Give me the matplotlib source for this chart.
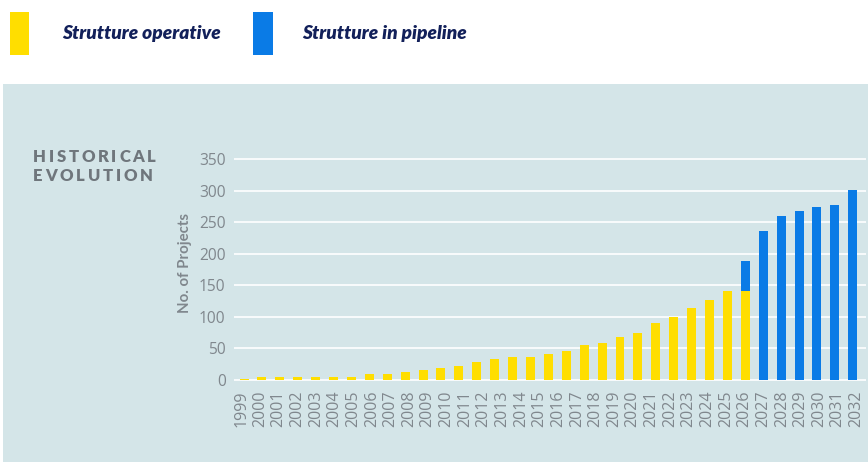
import numpy as np
import matplotlib
matplotlib.use("Agg")
import matplotlib.pyplot as plt
from matplotlib.patches import Rectangle

# ---- data -------------------------------------------------------------
year_labels = ["1999", "2000", "2001", "2002", "2003", "2004", "2005", "2006",
               "2007", "2008", "2009", "2010", "2011", "2012", "2013", "2014",
               "2015", "2016", "2017", "2018", "2019", "2020", "2021", "2022",
               "2023", "2024", "2025", "2026", "2027", "2028", "2029", "2030",
               "2031", "2032"]

operative = [2, 4, 4, 4, 4, 4, 4, 9, 9, 13, 16, 19, 22, 29, 33, 37, 37, 42,
             46, 55, 58, 68, 75, 90, 100, 115, 127, 141, 141,
             0, 0, 0, 0, 0, 0]
pipeline = [0, 0, 0, 0, 0, 0, 0, 0, 0, 0, 0, 0, 0, 0, 0, 0, 0, 0,
            0, 0, 0, 0, 0, 0, 0, 0, 0, 0, 48,
            236, 260, 268, 274, 277, 302]

y_ticks = [0, 50, 100, 150, 200, 250, 300, 350]

legend_labels = ["Strutture operative", "Strutture in pipeline"]
title_lines = ["HISTORICAL", "EVOLUTION"]
y_title = "No. of Projects"

# ---- style ------------------------------------------------------------
YELLOW = "#FFDE00"
BLUE = "#0A7BE6"
NAVY = "#12205A"
PANEL = "#D4E5E8"
GREY = "#80878D"
TITLE_GREY = "#6F767C"
FONT = "Lato"
TICK_FONT = "Open Sans"

W, H = 868, 462
fig = plt.figure(figsize=(W / 100, H / 100), dpi=100)
fig.patch.set_facecolor("white")


def fx(px):
    return px / W


def fy(py):
    return 1 - py / H


# light panel behind the chart
fig.patches.append(Rectangle((fx(3), 0), 1 - fx(3), fy(84), transform=fig.transFigure,
                             facecolor=PANEL, edgecolor="none", zorder=-2))

# legend swatches and labels
for x0, color, label, tx in [(9.5, YELLOW, legend_labels[0], 62),
                             (253, BLUE, legend_labels[1], 302)]:
    fig.patches.append(Rectangle((fx(x0), fy(54.7)), 20 / W, 42.7 / H,
                                 transform=fig.transFigure, facecolor=color,
                                 edgecolor="none", zorder=1))
    fig.text(fx(tx), fy(34), label, ha="left", va="center", color=NAVY,
             fontsize=13.8, fontweight="heavy", fontstyle="italic", family=FONT)

# ---- axes -------------------------------------------------------------
ax = fig.add_axes([fx(234), fy(380.5), (866 - 234) / W, (380.5 - 158.1) / H])
ax.set_zorder(2)
ax.set_facecolor("none")

x = np.arange(len(operative))
ax.bar(x, operative, width=0.5, color=YELLOW, zorder=3)
ax.bar(x, pipeline, width=0.5, bottom=operative, color=BLUE, zorder=3)

ax.set_xlim(-0.56, len(operative) - 1 + 0.74)
ax.set_ylim(-0.8, 352)
ax.set_yticks(y_ticks)
ax.yaxis.grid(True, color="white", linewidth=1.2, zorder=1)
ax.set_axisbelow(True)

# year labels are spread evenly across the full run of bars
ax.set_xticks(np.linspace(-0.15, len(operative) - 1 + 0.2, len(year_labels)))
ax.set_xticklabels(year_labels, rotation=90)

ax.tick_params(axis="y", length=0, colors=GREY, labelsize=11.2, pad=6)
ax.tick_params(axis="x", length=0, colors=GREY, labelsize=11.5, pad=7)
for lbl in ax.get_xticklabels() + ax.get_yticklabels():
    lbl.set_family(TICK_FONT)
for s in ax.spines.values():
    s.set_visible(False)

ax.set_ylabel(y_title, color=GREY, fontsize=10.8, fontweight="bold", family=FONT)
ax.yaxis.set_label_coords(-0.0775, 0.527)
ax.yaxis.label.set_va("center")

# ---- letter-spaced section title ---------------------------------------
renderer = fig.canvas.get_renderer()


def char_widths(s, **kw):
    ws = []
    for ch in s:
        t = fig.text(0, 0, ch, **kw)
        ws.append(t.get_window_extent(renderer=renderer).width)
        t.remove()
    return ws


title_kw = dict(color=TITLE_GREY, fontsize=12, fontweight="heavy", family=FONT)
first_w = char_widths(title_lines[0], **title_kw)
tracking = (156 - 33 - sum(first_w)) / (len(title_lines[0]) - 1)

for line, base in zip(title_lines, [161.7, 180.7]):
    cx = 33.0
    for ch, w in zip(line, char_widths(line, **title_kw)):
        fig.text(fx(cx), fy(base), ch, ha="left", va="baseline", **title_kw)
        cx += w + tracking

fig.savefig("out.png", dpi=100)
